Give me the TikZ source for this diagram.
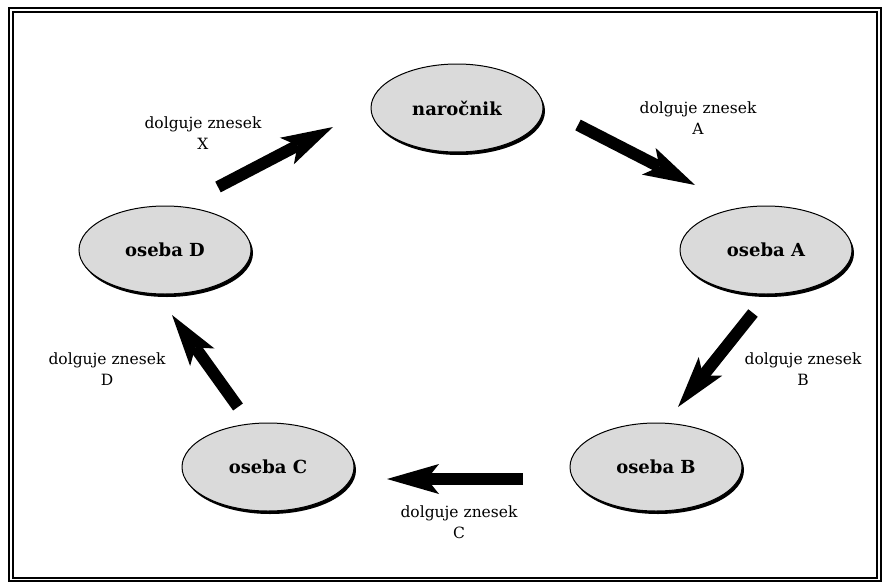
\documentclass[tikz,border=0pt]{standalone}
\usepackage{fontspec}
\setmainfont{DejaVu Serif}
\usetikzlibrary{arrows.meta,shapes.geometric,shadows}
\definecolor{ellfill}{RGB}{218,218,218}
\begin{document}
\begin{tikzpicture}[x=1pt,y=-1pt,
  party/.style={ellipse, draw=black, line width=1pt, fill=ellfill,
    minimum width=172pt, minimum height=88pt, inner sep=0pt,
    font=\fontsize{18}{20}\selectfont\bfseries,
    drop shadow={shadow xshift=2pt, shadow yshift=-3pt, opacity=1, fill=black}},
  debt/.style={line width=12pt,
    -{Stealth[length=52pt,width=30pt,inset=12pt,line width=0pt]}},
  note/.style={align=center, font=\fontsize{15.5}{21}\selectfont, inner sep=0pt},
  frameline/.style={line width=2pt}]
\useasboundingbox (0,0) rectangle (890,586);
\draw[frameline] (9,8.3) rectangle (881,581.3);
\draw[frameline] (13,12.3) rectangle (877,578.3);

\node[party] (nar) at (457,108) {naročnik};
\node[party] (osA) at (766,250) {oseba A};
\node[party] (osB) at (656,467) {oseba B};
\node[party] (osC) at (268,467) {oseba C};
\node[party] (osD) at (165,250) {oseba D};

\coordinate (xT) at (218,187); \coordinate (xH) at (333,127);
\coordinate (aT) at (578,125); \coordinate (aH) at (695,185);
\coordinate (bT) at (753,313); \coordinate (bH) at (678,407);
\coordinate (cT) at (523,479); \coordinate (cH) at (387,479);
\coordinate (dT) at (238,407); \coordinate (dH) at (172,315);

\draw[debt] (xT) -- (xH);
\draw[debt] (aT) -- (aH);
\draw[debt] (bT) -- (bH);
\draw[debt] (cT) -- (cH);
\draw[debt] (dT) -- (dH);

\node[note] (lX) at (203,133) {dolguje znesek\\X};
\node[note] (lA) at (698,118) {dolguje znesek\\A};
\node[note] (lB) at (803,369) {dolguje znesek\\B};
\node[note] (lC) at (459,522) {dolguje znesek\\C};
\node[note] (lD) at (107,369) {dolguje znesek\\D};
\end{tikzpicture}
\end{document}
